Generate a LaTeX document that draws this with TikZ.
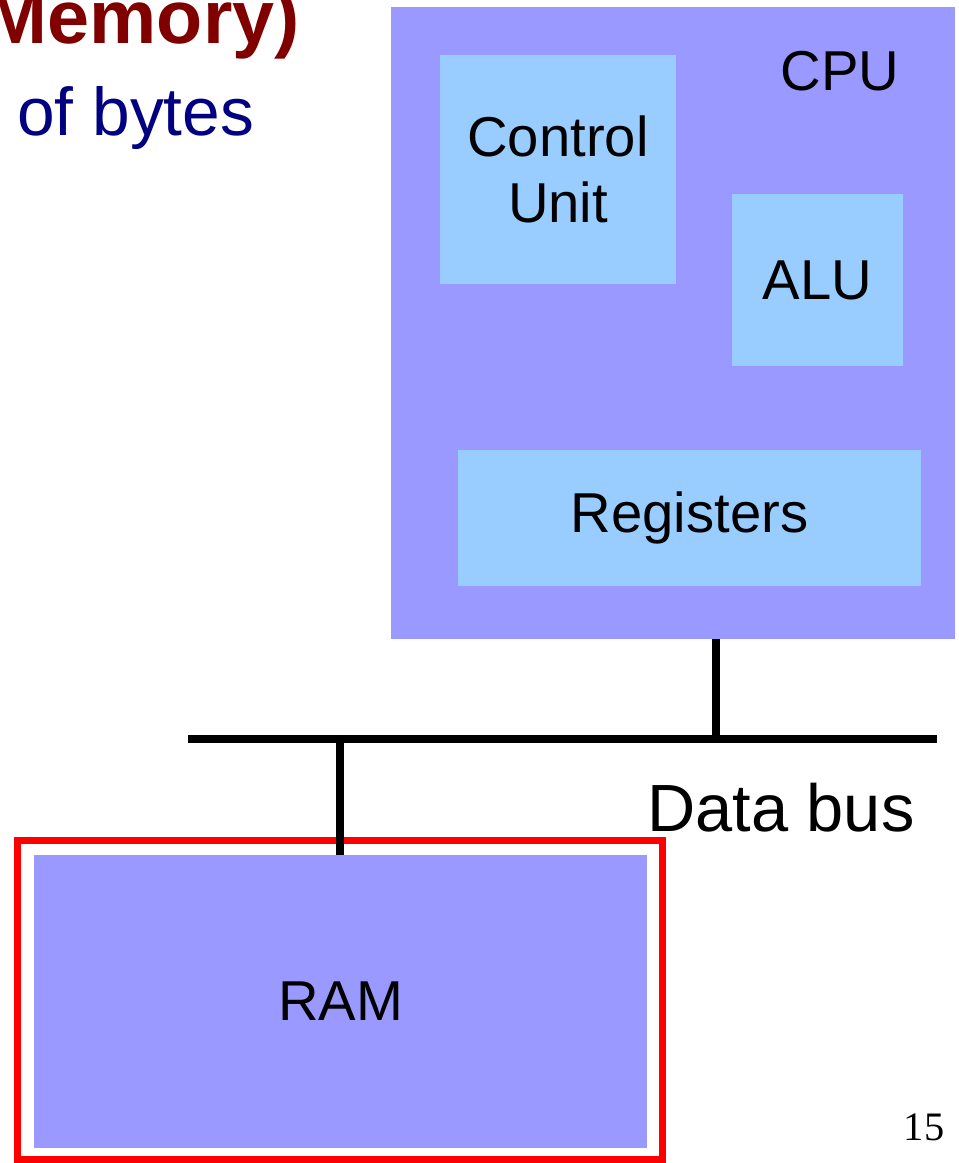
\documentclass[tikz,border=0pt]{standalone}
\usepackage{fontspec}
\setmainfont{Liberation Sans}
\newfontfamily\pagenumfont{Liberation Serif}
\usetikzlibrary{positioning}

\definecolor{cpuviolet}{HTML}{9999FF}
\definecolor{unitblue}{HTML}{99CCFF}
\definecolor{titlered}{HTML}{800000}
\definecolor{subnavy}{HTML}{000080}

\begin{document}
\begin{tikzpicture}[x=0.02cm, y=-0.02cm,
    box/.style={rectangle, inner sep=0pt, align=center, font=\fontsize{32}{38}\selectfont},
    bus/.style={line width=4pt}]
            \useasboundingbox (0,0) rectangle (959,1163);
            % heading, cut at the left edge
            \node[anchor=base east, inner sep=0pt, text=titlered, font=\fontsize{43}{50}\selectfont\bfseries] (title) at (300,43) {Memory)};
            \node[anchor=base west, inner sep=0pt, text=subnavy, font=\fontsize{38.5}{46}\selectfont] (sub) at (17,135) {of bytes};
            % processor
            \node[box, fill=cpuviolet, minimum width=11.28cm, minimum height=12.64cm] (cpu) at (673,323) {};
            \node[box, anchor=base] (cpulabel) at (840,90) {CPU};
            \node[box, fill=unitblue, minimum width=4.72cm, minimum height=4.58cm] (cu) at (558,169.5) {Control\\Unit};
            \node[box, fill=unitblue, minimum width=3.42cm, minimum height=3.44cm] (alu) at (817.5,280) {ALU};
            \node[box, fill=unitblue, minimum width=9.26cm, minimum height=2.72cm] (regs) at (689.5,518) {Registers};
            % memory
            \node[box, draw=red, line width=4pt, minimum width=12.9cm, minimum height=6.38cm] (ramframe) at (340,1000) {};
            \node[box, fill=cpuviolet, minimum width=12.26cm, minimum height=5.86cm] (ram) at (340.5,1001.5) {RAM};
            % bus
            \coordinate (busL) at (188,739);
            \coordinate (busR) at (937,739);
            \coordinate (cpuTap) at (716,739);
            \coordinate (ramTap) at (340,739);
            \draw[bus] (busL) -- (busR);
            \draw[bus] (cpu.south -| cpuTap) -- (cpuTap);
            \draw[bus] (ramTap) -- (ramTap |- ram.north);
            \node[anchor=base west, inner sep=0pt, font=\fontsize{38}{45}\selectfont] (buslabel) at (647,831) {Data bus};
            \node[anchor=base, inner sep=0pt, font=\pagenumfont\fontsize{23}{27}\selectfont] (pagenum) at (924,1140) {15};
        \end{tikzpicture}
\end{document}
